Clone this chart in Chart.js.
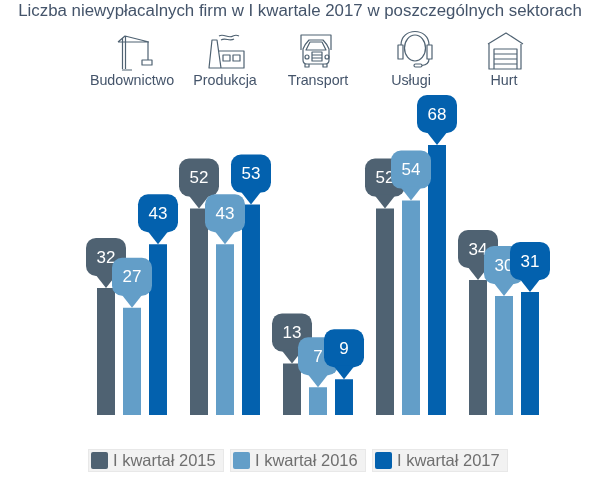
<!DOCTYPE html>
<html lang="pl">
<head>
<meta charset="utf-8">
<title>Niewypłacalne firmy</title>
<script src="https://cdn.jsdelivr.net/npm/chart.js@4/dist/chart.umd.min.js"></script>
<style>
  html, body { margin: 0; padding: 0; background: #fff; }
  #wrap { position: relative; width: 600px; height: 480px; overflow: hidden; font-family: "Liberation Sans", Arial, sans-serif; }
  #chart { position: absolute; left: 0; top: 0; }
  #icons { position: absolute; left: 0; top: 0; }
  #icons * { fill: none; stroke: #4f6272; stroke-width: 1.2; stroke-linejoin: round; }
  #legend { position: absolute; left: 88px; top: 449px; display: flex; gap: 6px; }
  .legend-item { box-sizing: border-box; width: 136px; height: 23px; display: flex; align-items: center; background: #f2f2f2; border: 1px solid #e8e8e8; color: #6f6f6f; font-size: 16.5px; white-space: nowrap; }
  .legend-swatch { width: 17px; height: 17px; border-radius: 2px; margin: 0 5px 0 2px; }
</style>
</head>
<body>
<div id="wrap">
  <canvas id="chart" width="600" height="480"></canvas>
  <svg id="icons" width="600" height="100" viewBox="0 0 600 100">
    <!-- crane -->
    <path d="M122.5 69V38M125.5 69V36M118 42L149 42M118 42L125 36L149 42M122 70H132M148 42V60"/>
    <rect x="142" y="60" width="10" height="5"/>
    <!-- factory -->
    <path d="M209 68L212 40H217L221 68ZM219 51H244V68H221M219 36C224 33 228 39 233 36C235 35 237 35 239 36M221 40C226 37 229 42 234 39"/>
    <rect x="223" y="55" width="7" height="6"/>
    <rect x="233" y="55" width="7" height="6"/>
    <!-- truck -->
    <path d="M301 50V35H331V50M303 60V49Q305 44 309 40H323Q327 44 329 49V60Q329 64 325 64H307Q303 64 303 60ZM306 50L310 42H322L326 50ZM305 64V67H309V64M323 64V67H327V64"/>
    <rect x="312" y="52" width="10" height="9"/>
    <path d="M312 55H322M312 58H322"/>
    <circle cx="307" cy="57" r="2"/>
    <circle cx="327" cy="57" r="2"/>
    <!-- headset -->
    <ellipse cx="415" cy="48" rx="10.5" ry="13"/>
    <path d="M401 45C401 27 429 27 429 45M429 59C429 63 426 65 422 65.5"/>
    <rect x="398" y="45" width="5" height="14"/>
    <rect x="427" y="45" width="5" height="14"/>
    <rect x="414" y="64" width="8" height="3" rx="1.5"/>
    <!-- garage -->
    <path d="M488 44L506 33L523 44M489 44V69H521V44M494 69V49H517V69M494 54H517M494 59H517M494 64H517"/>
  </svg>
  <div id="legend"></div>
</div>
<script>
const chartTitle = 'Liczba niewypłacalnych firm w I kwartale 2017 w poszczególnych sektorach';
const sectors = ['Budownictwo', 'Produkcja', 'Transport', 'Usługi', 'Hurt'];
const seriesNames = ['I kwartał 2015', 'I kwartał 2016', 'I kwartał 2017'];
const values2015 = [32, 52, 13, 52, 34];
const values2016 = [27, 43, 7, 54, 30];
const values2017 = [43, 53, 9, 68, 31];
const seriesColors = ['#4f6272', '#639ec8', '#0361ae'];

// the built-in title gets squeezed into the padded width, so draw it here
const titlePlugin = {
  id: 'wideTitle',
  afterDraw(chart) {
    const { ctx } = chart;
    ctx.save();
    ctx.fillStyle = '#44546a';
    ctx.font = '16.85px "Liberation Sans", Arial, sans-serif';
    ctx.textAlign = 'center';
    ctx.textBaseline = 'middle';
    ctx.fillText(chartTitle, 300, 11);
    ctx.restore();
  },
};

// speech bubble above every bar, later series overlap earlier ones
const bubblePlugin = {
  id: 'bubbles',
  afterDatasetsDraw(chart) {
    const { ctx } = chart;
    chart.data.datasets.forEach((dataset, i) => {
      chart.getDatasetMeta(i).data.forEach((bar, j) => {
        const x = bar.x;
        const tip = bar.y;
        ctx.save();
        ctx.fillStyle = dataset.backgroundColor;
        ctx.beginPath();
        ctx.roundRect(x - 20, tip - 50, 40, 38, 10);
        ctx.fill();
        ctx.beginPath();
        ctx.moveTo(x + 11, tip - 14);
        ctx.lineTo(x, tip);
        ctx.lineTo(x - 11, tip - 14);
        ctx.closePath();
        ctx.fill();
        ctx.fillStyle = '#fff';
        ctx.font = '17px "Liberation Sans", Arial, sans-serif';
        ctx.textAlign = 'center';
        ctx.textBaseline = 'middle';
        ctx.fillText(String(dataset.data[j]), x, tip - 30);
        ctx.restore();
      });
    });
  },
};

const renderLegend = () => {
  document.getElementById('legend').innerHTML = seriesNames
    .map((name, i) => `<div class="legend-item"><span class="legend-swatch" style="background:${seriesColors[i]}"></span>${name}</div>`)
    .join('');
};

const createChart = () => new Chart(document.getElementById('chart'), {
  type: 'bar',
  data: {
    labels: sectors,
    datasets: [values2015, values2016, values2017].map((data, i) => ({
      label: seriesNames[i],
      data,
      backgroundColor: seriesColors[i],
      categoryPercentage: 0.8387,
      barPercentage: 0.692,
    })),
  },
  options: {
    responsive: false,
    animation: false,
    layout: { padding: { left: 85.5, right: 49.5, top: 65, bottom: 65 } },
    plugins: {
      legend: { display: false },
      tooltip: { enabled: false },
    },
    scales: {
      x: {
        position: 'top',
        grid: { display: false, drawTicks: false },
        border: { display: false },
        ticks: {
          color: '#44546a',
          padding: 7,
          maxRotation: 0,
          font: { family: '"Liberation Sans", Arial, sans-serif', size: 14.3 },
        },
      },
      y: { display: false, min: 0, max: 80.3 },
    },
  },
  plugins: [bubblePlugin, titlePlugin],
});

const init = () => {
  renderLegend();
  createChart();
};

window.addEventListener('DOMContentLoaded', init);
</script>
</body>
</html>
